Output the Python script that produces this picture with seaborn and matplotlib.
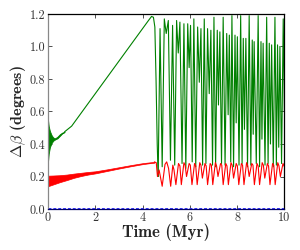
import matplotlib
matplotlib.use("Agg")
import matplotlib.pyplot as plt
import seaborn as sns

# ---------------- data ----------------
# green: early dense-oscillation envelope (Myr, degrees)
g_band_t = [0.0, 0.03, 0.08, 0.15, 0.22, 0.30, 0.40, 0.50, 0.60, 0.70]
g_band_hi = [0.55, 0.51, 0.48, 0.455, 0.44, 0.435, 0.445, 0.46, 0.47, 0.475]
g_band_lo = [0.29, 0.34, 0.38, 0.405, 0.42, 0.428, 0.435, 0.45, 0.465, 0.473]
# green: smooth rise then collapse
g_rise_t = [0.70, 1.0, 1.5, 2.0, 2.5, 3.0, 3.5, 4.0, 4.25, 4.38, 4.46, 4.52, 4.57, 4.62, 4.66]
g_rise_v = [0.475, 0.51, 0.61, 0.71, 0.81, 0.91, 1.01, 1.11, 1.16, 1.185, 1.18, 1.12, 0.80, 0.40, 0.20]
# green: post-collapse peaks and the troughs that follow each peak
g_peak_t = [4.74, 4.92, 5.09, 5.27, 5.44, 5.58, 5.75, 5.91, 6.03, 6.17,
            6.33, 6.47, 6.61, 6.75, 6.89, 7.02, 7.16, 7.27, 7.41, 7.56,
            7.67, 7.78, 7.91, 8.01, 8.15, 8.26, 8.37, 8.51, 8.64, 8.72,
            8.89, 9.01, 9.10, 9.25, 9.36, 9.46, 9.60, 9.71, 9.81, 9.95]
g_peak_v = [1.11, 1.17, 1.16, 1.13, 1.16, 1.15, 1.14, 1.14, 1.13, 1.17,
            1.12, 1.11, 1.17, 1.11, 1.10, 1.18, 1.10, 1.09, 1.18, 1.08,
            1.07, 1.19, 1.07, 1.06, 1.19, 1.05, 1.05, 1.19, 1.04, 1.03,
            1.19, 1.03, 1.02, 1.18, 1.02, 1.01, 1.18, 1.01, 1.00, 1.17]
g_trough_t = [4.83, 5.00, 5.18, 5.36, 5.51, 5.67, 5.83, 5.97, 6.10, 6.25,
              6.40, 6.54, 6.68, 6.82, 6.96, 7.09, 7.21, 7.34, 7.49, 7.62,
              7.73, 7.85, 7.96, 8.08, 8.21, 8.31, 8.44, 8.58, 8.68, 8.81,
              8.95, 9.05, 9.18, 9.31, 9.41, 9.53, 9.66, 9.76, 9.88, 10.0]
g_trough_v = [0.26, 1.08, 0.30, 0.27, 0.96, 0.28, 0.25, 0.87, 0.29, 0.26,
              0.78, 0.27, 0.28, 0.71, 0.27, 0.26, 0.64, 0.28, 0.27, 0.58,
              0.29, 0.26, 0.53, 0.27, 0.28, 0.49, 0.26, 0.27, 0.46, 0.28,
              0.26, 0.43, 0.27, 0.28, 0.40, 0.26, 0.27, 0.38, 0.28, 0.60]

# red: early oscillation envelope, then slow wiggly rise
r_band_t = [0.0, 0.2, 0.5, 0.8, 1.1, 1.4, 1.7, 2.0, 2.5, 3.0, 3.5, 4.0, 4.3, 4.5]
r_band_hi = [0.205, 0.206, 0.208, 0.212, 0.218, 0.223, 0.228, 0.232, 0.244, 0.257, 0.27, 0.282, 0.287, 0.29]
r_band_lo = [0.14, 0.15, 0.165, 0.178, 0.192, 0.203, 0.212, 0.219, 0.234, 0.249, 0.263, 0.276, 0.282, 0.285]
# red: post-collapse oscillation
r_post_t = [4.50, 4.58, 4.63, 4.70, 4.83, 4.95, 5.02, 5.10, 5.19, 5.28, 5.33, 5.41,
            5.52, 5.58, 5.64, 5.75, 5.80, 5.86, 5.97, 6.02, 6.09, 6.20, 6.25, 6.31,
            6.42, 6.47, 6.53, 6.64, 6.69, 6.75, 6.86, 6.91, 6.97, 7.08, 7.13, 7.19,
            7.30, 7.35, 7.41, 7.52, 7.57, 7.63, 7.74, 7.79, 7.85, 7.96, 8.01, 8.07,
            8.18, 8.23, 8.29, 8.40, 8.45, 8.51, 8.62, 8.67, 8.73, 8.84, 8.89, 8.95,
            9.06, 9.11, 9.17, 9.28, 9.33, 9.39, 9.50, 9.55, 9.61, 9.72, 9.77, 9.83,
            9.94, 10.0]
r_post_v = [0.29, 0.285, 0.20, 0.24, 0.14, 0.275, 0.29, 0.25, 0.14, 0.27, 0.24, 0.15,
            0.28, 0.265, 0.15, 0.285, 0.27, 0.20, 0.28, 0.27, 0.15, 0.28, 0.265, 0.15,
            0.285, 0.27, 0.19, 0.28, 0.265, 0.15, 0.28, 0.27, 0.15, 0.285, 0.265, 0.20,
            0.28, 0.27, 0.15, 0.28, 0.265, 0.15, 0.285, 0.27, 0.19, 0.28, 0.265, 0.15,
            0.28, 0.27, 0.15, 0.285, 0.265, 0.20, 0.28, 0.27, 0.15, 0.28, 0.265, 0.15,
            0.285, 0.27, 0.19, 0.28, 0.265, 0.15, 0.28, 0.27, 0.15, 0.285, 0.265, 0.20,
            0.28, 0.26]

# blue dashed: essentially zero
b_t = [0.0, 10.0]
b_v = [0.008, 0.008]

x_ticks = [0, 2, 4, 6, 8, 10]
y_ticks = [0.0, 0.2, 0.4, 0.6, 0.8, 1.0, 1.2]

# ---------------- figure ----------------
sns.set_style("ticks")
plt.rcParams["font.family"] = ["cmr10", "DejaVu Serif"]
plt.rcParams["mathtext.fontset"] = "cm"
plt.rcParams["axes.formatter.use_mathtext"] = True

fig = plt.figure(figsize=(3.0, 2.5), dpi=100)
ax = fig.add_axes([0.16, 0.164, 0.788, 0.78])

GREEN = "#008000"
RED = "#ff0000"

# green
ax.fill_between(g_band_t, g_band_lo, g_band_hi, color=GREEN, lw=0.6, edgecolor=GREEN)
sns.lineplot(x=g_rise_t, y=g_rise_v, ax=ax, color=GREEN, lw=0.8, estimator=None, sort=False)
gt, gv = [g_rise_t[-1]], [g_rise_v[-1]]
for pt, pv, tt, tv in zip(g_peak_t, g_peak_v, g_trough_t, g_trough_v):
    gt += [pt, tt]
    gv += [pv, tv]
sns.lineplot(x=gt, y=gv, ax=ax, color=GREEN, lw=0.8, estimator=None, sort=False)

# red
ax.fill_between(r_band_t, r_band_lo, r_band_hi, color=RED, lw=0.5, edgecolor=RED)
sns.lineplot(x=r_post_t, y=r_post_v, ax=ax, color=RED, lw=0.8, estimator=None, sort=False)

# blue
sns.lineplot(x=b_t, y=b_v, ax=ax, color="#3333ff", lw=0.7, ls=(0, (3, 2)), estimator=None, sort=False)

ax.set_xlim(0, 10)
ax.set_ylim(0, 1.2)
ax.set_xticks(x_ticks)
ax.set_xticklabels([str(v) for v in x_ticks])
ax.set_yticks(y_ticks)
ax.set_yticklabels([f"{v:.1f}" for v in y_ticks])
ax.tick_params(direction="in", top=True, right=True, length=3, width=0.6,
               labelsize=8.8, colors="#333333", pad=2)
for s in ["top", "right"]:
    ax.spines[s].set_color("black")
    ax.spines[s].set_linewidth(0.9)
ax.spines["bottom"].set_color("#000066")
ax.spines["bottom"].set_linewidth(0.9)
ax.spines["left"].set_color("#888888")
ax.spines["left"].set_linewidth(0.9)

ax.set_xlabel("Time (Myr)", fontsize=12, fontfamily=["cmb10", "DejaVu Serif"], labelpad=0)
ax.set_ylabel(r"$\Delta\beta$ (degrees)", fontsize=11.5, fontfamily=["cmb10", "DejaVu Serif"], labelpad=1)

fig.savefig("out.png", dpi=100)
